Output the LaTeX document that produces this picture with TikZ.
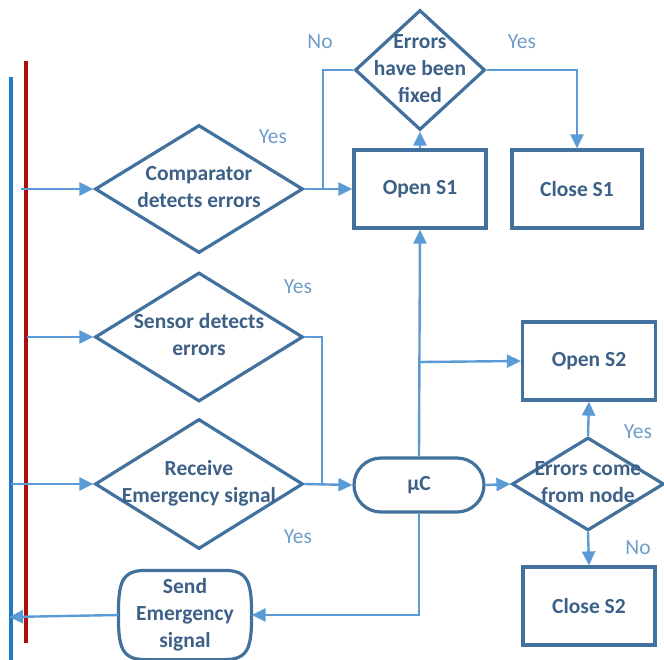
\documentclass[tikz,border=0pt]{standalone}
\usepackage{fontspec}
\setmainfont{Carlito}
\usetikzlibrary{shapes.geometric,shapes.misc,arrows.meta,calc}
\definecolor{bord}{HTML}{41719C}
\definecolor{txt}{HTML}{3D6087}
\definecolor{conn}{HTML}{5B9BD5}
\definecolor{lbl}{HTML}{6F9CC8}
\definecolor{redline}{HTML}{B00D0D}
\definecolor{blueline}{HTML}{2378C2}
\newcommand{\ctext}[1]{\makebox[0pt]{\begin{tabular}{@{}c@{}}#1\end{tabular}}}
\tikzset{
  base/.style={draw=bord, line width=3.2pt, text=txt, inner sep=0pt,
    font=\fontsize{21.5}{27}\selectfont\bfseries},
  dia/.style={base, diamond, minimum width=#1},
  box/.style={base, rectangle, minimum width=132pt, minimum height=78pt},
  pill/.style={base, rounded rectangle, minimum width=130pt, minimum height=54pt},
  bordline/.style={draw=bord, line width=3.2pt},
  conn/.style={draw=conn, line width=2.4pt},
  arr/.style={conn, -{Triangle[length=14pt,width=13pt]}},
  lab/.style={text=lbl, font=\fontsize{21.5}{27}\selectfont, inner sep=0pt}
}
\begin{document}
\begin{tikzpicture}[x=1pt,y=-1pt]
\useasboundingbox (0,0) rectangle (664,659);
% bus lines
\coordinate (bt) at (11,77); \coordinate (bb) at (11,665);
\coordinate (rt) at (26,61); \coordinate (rb) at (26,643);
\draw[draw=blueline, line width=4pt] (bt) -- (bb);
\draw[draw=redline, line width=4pt] (rt) -- (rb);
% nodes
\node[dia=208pt, minimum height=128pt] (comp) at (199,189) {\ctext{Comparator\\detects errors}};
\node[dia=208pt, minimum height=129pt] (sens) at (199,337) {\ctext{Sensor detects\\errors}};
\node[dia=208pt, minimum height=130pt] (recv) at (199,484) {\ctext{Receive\\Emergency signal}};
\node[dia=130pt, minimum height=120pt] (fixd) at (420,70) {\ctext{Errors\\have been\\fixed}};
\node[box] (open1) at (420,189) {Open S1};
\node[box, minimum width=130pt] (close1) at (577,189) {Close S1};
\node[pill] (mu) at (419,485) {µC};
\node[box, minimum width=133pt] (open2) at (589,361) {Open S2};
\node[dia=152pt, minimum height=93pt] (fromn) at (588,484) {\ctext{Errors come\\from node}};
\node[box] (close2) at (589,606) {Close S2};
\node[base, draw=none, rectangle, minimum width=130pt, minimum height=86pt] (send) at (185,615) {\ctext{Send\\Emergency\\signal}};
\draw[bordline] ($(send.north west)+(27,0)$) -- ($(send.north east)+(-27,0)$)
  .. controls ($(send.north east)+(-3,0)$) and ($(send.east)+(0,-32)$) .. (send.east)
  .. controls ($(send.east)+(0,32)$) and ($(send.south east)+(-3,0)$) .. ($(send.south east)+(-27,0)$)
  -- ($(send.south west)+(27,0)$)
  .. controls ($(send.south west)+(3,0)$) and ($(send.west)+(0,32)$) .. (send.west)
  .. controls ($(send.west)+(0,-32)$) and ($(send.north west)+(3,0)$) .. cycle;
% connector points
\coordinate (in1) at (21,189);
\coordinate (in2) at (27,337);
\coordinate (in3) at (11,484);
\coordinate (j1) at (323,189);
\coordinate (j1t) at (323,70);
\coordinate (j2) at (322,337);
\coordinate (j2b) at (322,484);
\coordinate (j3) at (420,362);
\coordinate (out) at (9,617);
% connectors
\draw[arr] (in1) -- (comp.west);
\draw[arr] (in2) -- (sens.west);
\draw[arr] (in3) -- (recv.west);
\draw[arr] (comp.east) -- (open1.west);
\draw[conn] (j1) -- (j1t) -- (fixd.west);
\draw[arr] (open1.north) -- (fixd.south);
\draw[arr] (fixd.east) -| (close1.north);
\draw[conn] (sens.east) -- (j2) -- (j2b);
\draw[arr] (recv.east) -- (mu.west);
\draw[arr] (mu.north) -- (open1.south);
\draw[arr] (j3) -- (open2.west);
\draw[arr] (mu.east) -- (fromn.west);
\draw[arr] (fromn.north) -- (open2.south);
\draw[arr] (fromn.south) -- (close2.north);
\draw[arr] (mu.south) |- (send.east);
\draw[arr] (send.west) -- (out);
% labels
\node[lab] (l1) at (320,42) {No};
\node[lab] (l2) at (522,42) {Yes};
\node[lab] (l3) at (273,137) {Yes};
\node[lab] (l4) at (298,287) {Yes};
\node[lab] (l5) at (298,537) {Yes};
\node[lab] (l6) at (638,432) {Yes};
\node[lab] (l7) at (638,548) {No};
\end{tikzpicture}
\end{document}
